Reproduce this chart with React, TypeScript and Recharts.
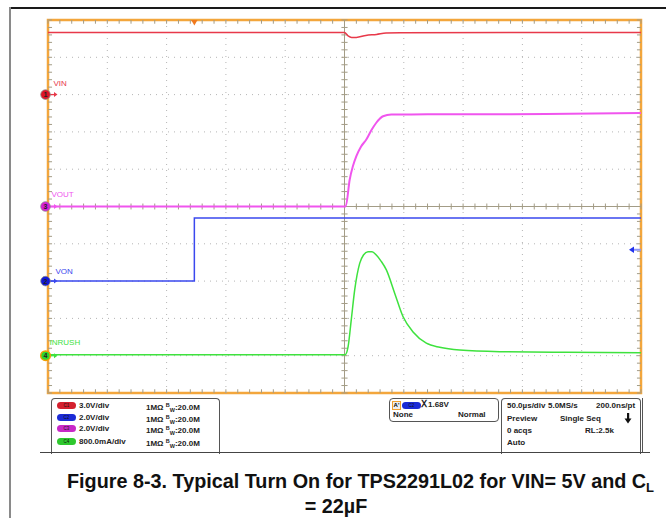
import React from "react";
import { LineChart, Line, XAxis, YAxis, ReferenceLine, ReferenceArea, ReferenceDot } from "recharts";

// Horizontal: time in µs from left edge of screen (50 µs/div, 10 divisions)
const timeGrid = [50, 100, 150, 200, 300, 350, 400, 450];
const levelGrid = [1, 2, 3, 4, 6, 7, 8, 9];
const minorTime = [0,10,20,30,40,50,60,70,80,90,100,110,120,130,140,150,160,170,180,190,200,210,220,230,240,250,260,270,280,290,300,310,320,330,340,350,360,370,380,390,400,410,420,430,440,450,460,470,480,490,500];
const minorLevel = [0,0.2,0.4,0.6,0.8,1,1.2,1.4,1.6,1.8,2,2.2,2.4,2.6,2.8,3,3.2,3.4,3.6,3.8,4,4.2,4.4,4.6,4.8,5,5.2,5.4,5.6,5.8,6,6.2,6.4,6.6,6.8,7,7.2,7.4,7.6,7.8,8,8.2,8.4,8.6,8.8,9,9.2,9.4,9.6,9.8,10];

// CH1 VIN (3 V/div, ground at division 8)
const vinTime = [0, 250, 253, 256, 260, 268, 277, 285, 297, 500];
const vinVolts = [5.0, 5.0, 4.73, 4.6, 4.6, 4.76, 4.84, 4.95, 4.98, 5.0];
// CH2 VON (2 V/div, ground at division 3)
const vonTime = [0, 123.4, 123.4, 500];
const vonVolts = [0, 0, 3.38, 3.38];
// CH3 VOUT (2 V/div, ground at division 5)
const voutTime = [0, 251, 254.4, 257, 260, 264, 268.4, 272.5, 276.8, 282.5, 289.5, 320, 420, 500];
const voutVolts = [0, 0, 1.45, 2.14, 2.7, 3.22, 3.59, 4.07, 4.49, 4.84, 4.93, 4.94, 4.96, 5.01];
// CH4 INRUSH (800 mA/div, ground at division 1)
const inrushTime = [0, 250.5, 253, 255.7, 258.6, 262.8, 266, 269.8, 273.2, 276.8, 280.8, 285.3, 292.3, 299.3, 307.8, 319, 330.3, 347.1, 380.9, 437, 500];
const inrushAmps = [0.02, 0.02, 0.19, 0.77, 1.41, 1.98, 2.16, 2.23, 2.23, 2.16, 2.03, 1.84, 1.34, 0.84, 0.51, 0.27, 0.18, 0.12, 0.086, 0.073, 0.064];

const triggerTime = 123.4;
const triggerLevel = 1.68;

const CH = {
  vin: { scale: 3, offset: 8, color: "#e8394a", fill: "#e01226", num: "1", label: "VIN" },
  von: { scale: 2, offset: 3, color: "#3a48ee", fill: "#1218d8", num: "2", label: "VON" },
  vout: { scale: 2, offset: 5, color: "#f055ee", fill: "#d81ed8", num: "3", label: "VOUT" },
  inrush: { scale: 0.8, offset: 1, color: "#3ee23e", fill: "#2ed82e", num: "4", label: "INRUSH" },
};

const toDiv = (time: number[], vals: number[], scale: number, offset: number) =>
  time.map((t, i) => ({ t, y: offset + vals[i] / scale }));

const vinData = toDiv(vinTime, vinVolts, CH.vin.scale, CH.vin.offset);
const vonData = toDiv(vonTime, vonVolts, CH.von.scale, CH.von.offset);
const voutData = toDiv(voutTime, voutVolts, CH.vout.scale, CH.vout.offset);
const inrushData = toDiv(inrushTime, inrushAmps, CH.inrush.scale, CH.inrush.offset);

const ORANGE = "#f3a63c";
const TICK = "#a39c86";
const GRID = "#b5b5b5";
const TX = 3.4; // tick length in µs (≈4px)
const TY = 0.1; // tick length in div (≈4px)

const makeMarker = (c: any, labelDx: number, labelDy: number, ring?: string) => (p: any) => {
  const { cx, cy } = p;
  const x0 = cx - 2.5;
  return (
    <g>
      <text x={x0 + labelDx} y={cy + labelDy} fontSize={8} fill={c.color} fontFamily="Liberation Sans Narrow, Liberation Sans, Arial" >{c.label}</text>
      <line x1={x0 + 4} y1={cy} x2={x0 + 10} y2={cy} stroke={c.color} strokeWidth={1.3} />
      <polygon points={`${x0 + 12},${cy} ${x0 + 8.5},${cy - 2.5} ${x0 + 8.5},${cy + 2.5}`} fill={c.color} />
      <circle cx={x0} cy={cy} r={4.8} fill={c.fill} stroke={ring || "#8a8a8a"} strokeWidth={ring ? 1.5 : 0.8} />
      <text x={x0} y={cy + 2.6} fontSize={7} fontWeight="bold" textAnchor="middle" fill="#222" fontFamily="Liberation Sans, Arial">{c.num}</text>
    </g>
  );
};

const TriggerPos = (p: any) => {
  const { cx, cy } = p;
  return <polygon points={`${cx - 3.2},${cy} ${cx + 3.2},${cy} ${cx},${cy + 5.5}`} fill="#f07a1e" />;
};
const TriggerLevel = (p: any) => {
  const { cx, cy } = p;
  return (
    <g>
      <line x1={cx - 8} y1={cy} x2={cx} y2={cy} stroke="#8f95f5" strokeWidth={2} />
      <polygon points={`${cx - 12},${cy} ${cx - 7},${cy - 3.2} ${cx - 7},${cy + 3.2}`} fill="#2233ee" />
    </g>
  );
};

const txt: React.CSSProperties = {
  position: "absolute",
  fontFamily: "Liberation Sans, Arial, sans-serif",
  fontWeight: "bold",
  fontSize: 8,
  color: "#222",
  whiteSpace: "nowrap",
  lineHeight: "9px",
};

const Pill = ({ left, top, color, text, width }: any) => (
  <div style={{ position: "absolute", left, top, width: width || 19, height: 7, borderRadius: 4, background: color, color: "#111", fontSize: 4.5, lineHeight: "7px", textAlign: "center", fontFamily: "Liberation Sans, Arial" }}>{text}</div>
);

const BW = () => (
  <span>
    1MΩ <span style={{ fontSize: 5.5, verticalAlign: "3px" }}>B</span>
    <span style={{ fontSize: 5.5, verticalAlign: "-2px" }}>W</span>:20.0M
  </span>
);

export default function App() {
  const rows = [
    { c: "#d4202e", t: "C1", v: "3.0V/div" },
    { c: "#1c2bd6", t: "C2", v: "2.0V/div" },
    { c: "#c828c8", t: "C3", v: "2.0V/div" },
    { c: "#2ec82e", t: "C4", v: "800.0mA/div" },
  ];
  const rowY = [401, 412.5, 424, 436.5];
  return (
    <div style={{ position: "absolute", left: 0, top: 0, width: 666, height: 518, background: "#fff", overflow: "hidden" }}>
      <div style={{ position: "absolute", left: 10, top: 7, width: 656, height: 2, background: "#1a1a1a" }} />
      <div style={{ position: "absolute", left: 9, top: 7, width: 2, height: 511, background: "#8a8a8a" }} />
      <div style={{ position: "absolute", left: 0, top: 0 }}>
        <LineChart width={666} height={518} margin={{ top: 20, right: 25, bottom: 125, left: 48 }}>
          <XAxis dataKey="t" type="number" domain={[0, 500]} hide allowDataOverflow />
          <YAxis type="number" domain={[0, 10]} hide allowDataOverflow />
          {timeGrid.map((t) => (
            <ReferenceLine key={"gx" + t} x={t} stroke={GRID} strokeDasharray="1 5" />
          ))}
          {levelGrid.map((l) => (
            <ReferenceLine key={"gy" + l} y={l} stroke={GRID} strokeDasharray="1 5" />
          ))}
          <ReferenceLine x={250} stroke={TICK} strokeWidth={1} />
          <ReferenceLine y={5} stroke={TICK} strokeWidth={1} />
          {minorTime.map((t) => (
            <ReferenceLine key={"tt" + t} segment={[{ x: t, y: 10 }, { x: t, y: 10 - TY }]} stroke={TICK} ifOverflow="visible" />
          ))}
          {minorTime.map((t) => (
            <ReferenceLine key={"tb" + t} segment={[{ x: t, y: 0 }, { x: t, y: TY }]} stroke={TICK} ifOverflow="visible" />
          ))}
          {minorTime.map((t) => (
            <ReferenceLine key={"tc" + t} segment={[{ x: t, y: 5 - 0.08 }, { x: t, y: 5 + 0.08 }]} stroke={TICK} ifOverflow="visible" />
          ))}
          {minorLevel.map((l) => (
            <ReferenceLine key={"ll" + l} segment={[{ x: 0, y: l }, { x: TX, y: l }]} stroke={TICK} ifOverflow="visible" />
          ))}
          {minorLevel.map((l) => (
            <ReferenceLine key={"lr" + l} segment={[{ x: 500 - TX, y: l }, { x: 500, y: l }]} stroke={TICK} ifOverflow="visible" />
          ))}
          {minorLevel.map((l) => (
            <ReferenceLine key={"lc" + l} segment={[{ x: 250 - 2.6, y: l }, { x: 250 + 2.6, y: l }]} stroke={TICK} ifOverflow="visible" />
          ))}
          <ReferenceArea x1={0} x2={500} y1={0} y2={10} fill="none" fillOpacity={0} stroke={ORANGE} strokeWidth={2.5} ifOverflow="visible" />
          <Line data={vinData} dataKey="y" type="monotone" stroke={CH.vin.color} strokeWidth={1.5} dot={false} isAnimationActive={false} />
          <Line data={voutData} dataKey="y" type="monotone" stroke={CH.vout.color} strokeWidth={2} dot={false} isAnimationActive={false} />
          <Line data={vonData} dataKey="y" type="linear" stroke={CH.von.color} strokeWidth={1.5} dot={false} isAnimationActive={false} />
          <Line data={inrushData} dataKey="y" type="monotone" stroke={CH.inrush.color} strokeWidth={1.5} dot={false} isAnimationActive={false} />
          <ReferenceDot x={0} y={CH.vin.offset} r={5} ifOverflow="visible" shape={makeMarker(CH.vin, 8, -9)} />
          <ReferenceDot x={0} y={CH.vout.offset} r={5} ifOverflow="visible" shape={makeMarker(CH.vout, 6, -10)} />
          <ReferenceDot x={0} y={CH.von.offset} r={5} ifOverflow="visible" shape={makeMarker(CH.von, 10, -7)} />
          <ReferenceDot x={0} y={CH.inrush.offset} r={5} ifOverflow="visible" shape={makeMarker(CH.inrush, 4, -11, "#f0a000")} />
          <ReferenceDot x={triggerTime} y={10} r={3} ifOverflow="visible" shape={TriggerPos} />
          <ReferenceDot x={500} y={CH.von.offset + triggerLevel / CH.von.scale} r={3} ifOverflow="visible" shape={TriggerLevel} />
        </LineChart>
      </div>

      {/* info panel */}
      <div style={{ position: "absolute", left: 51, top: 398, width: 167, height: 55, border: "1px solid #555", borderBottom: "none", borderRadius: "4px 4px 0 0" }} />
      {rows.map((r, i) => (
        <React.Fragment key={r.t}>
          <Pill left={57} top={rowY[i] + 1} color={r.c} text={r.t} />
          <div style={{ ...txt, left: 79, top: rowY[i] }}>{r.v}</div>
          <div style={{ ...txt, left: 146, top: rowY[i] }}><BW /></div>
        </React.Fragment>
      ))}
      <div style={{ position: "absolute", left: 389, top: 398, width: 108, height: 22, border: "1px solid #555", borderRadius: 4 }} />
      <div style={{ position: "absolute", left: 392, top: 401, width: 7, height: 7, border: "1px solid #f0a030", background: "#eee", fontSize: 6, lineHeight: "7px", fontFamily: "Liberation Sans", fontWeight: "bold", textAlign: "center" }}>A'</div>
      <Pill left={402} top={402} color="#1c2bd6" text="C2" width={19} />
      <div style={{ ...txt, left: 421, top: 400, fontSize: 9 }}>Ⅹ</div>
      <div style={{ ...txt, left: 428, top: 400 }}>1.68V</div>
      <div style={{ ...txt, left: 393, top: 410 }}>None</div>
      <div style={{ ...txt, left: 458, top: 410 }}>Normal</div>

      <div style={{ position: "absolute", left: 501, top: 398, width: 138, height: 55, border: "1px solid #555", borderBottom: "none", borderRadius: "4px 4px 0 0" }} />
      <div style={{ position: "absolute", left: 642, top: 398, width: 1, height: 55, background: "#555" }} />
      <div style={{ ...txt, left: 507, top: 401 }}>50.0µs/div</div>
      <div style={{ ...txt, left: 548, top: 401 }}>5.0MS/s</div>
      <div style={{ ...txt, left: 596, top: 401 }}>200.0ns/pt</div>
      <div style={{ ...txt, left: 507, top: 414 }}>Preview</div>
      <div style={{ ...txt, left: 560, top: 414 }}>Single Seq</div>
      <svg style={{ position: "absolute", left: 624, top: 413 }} width={8} height={11}>
        <rect x={3} y={0} width={2.2} height={6} fill="#111" />
        <polygon points="0.5,5.5 7.5,5.5 4,10.5" fill="#111" />
      </svg>
      <div style={{ ...txt, left: 507, top: 425.5 }}>0 acqs</div>
      <div style={{ ...txt, left: 585, top: 425.5 }}>RL:2.5k</div>
      <div style={{ ...txt, left: 507, top: 437.5 }}>Auto</div>
      <div style={{ position: "absolute", left: 40, top: 452, width: 610, height: 1, background: "#444" }} />

      {/* caption */}
      <div style={{ position: "absolute", left: 67, top: 470, fontFamily: "Liberation Sans, Arial, sans-serif", fontWeight: "bold", fontSize: 19.8, lineHeight: "22px", color: "#111", whiteSpace: "nowrap" }}>
        Figure 8-3. Typical Turn On for TPS2291L02 for VIN= 5V and C<sub style={{ fontSize: 13, verticalAlign: "-4px" }}>L</sub>
      </div>
      <div style={{ position: "absolute", left: 236, top: 495, width: 200, textAlign: "center", fontFamily: "Liberation Sans, Arial, sans-serif", fontWeight: "bold", fontSize: 19.8, lineHeight: "22px", color: "#111", whiteSpace: "nowrap" }}>
        = 22µF
      </div>
    </div>
  );
}
